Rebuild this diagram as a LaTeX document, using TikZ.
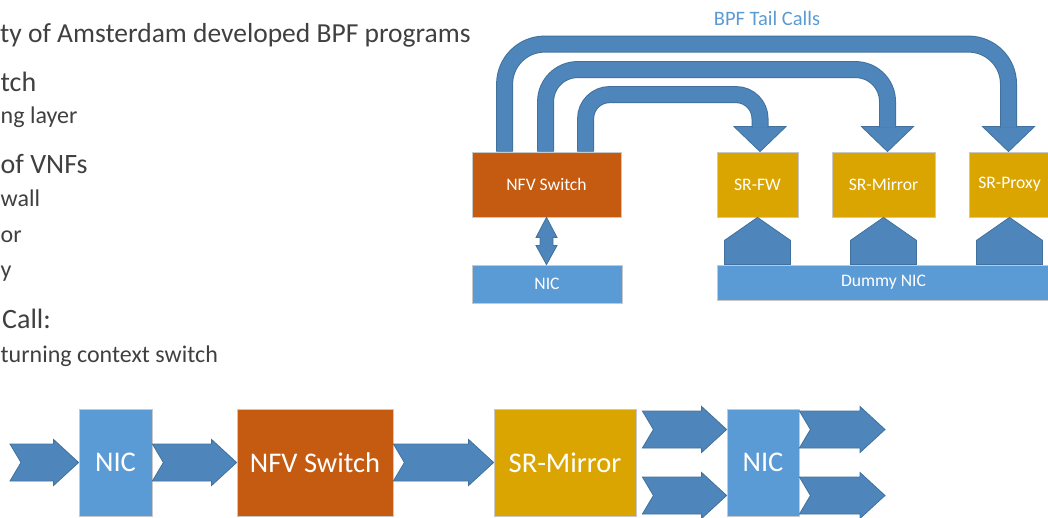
\documentclass[tikz,border=0pt]{standalone}
\usepackage{fontspec}
\setmainfont{Carlito}
\usetikzlibrary{calc}
\definecolor{txtgray}{RGB}{64,64,64}
\definecolor{nicblue}{RGB}{91,155,213}
\definecolor{nfvorange}{RGB}{197,90,17}
\definecolor{srgold}{RGB}{218,165,0}
\definecolor{arrowfill}{RGB}{78,134,187}
\definecolor{arrowline}{RGB}{65,113,156}
\definecolor{boxline}{RGB}{200,200,200}
\newcommand{\notched}[2]{\path[arrowshape] let \p1=(#1), \p2=(#2) in
  (\x1,\y1+18.5pt) -- (\x2-25pt,\y1+18.5pt) -- (\x2-25pt,\y1+23pt) -- (\x2,\y1)
  -- (\x2-25pt,\y1-23pt) -- (\x2-25pt,\y1-18.5pt) -- (\x1,\y1-18.5pt) -- (\x1+11pt,\y1) -- cycle;}
\newcommand{\downhead}[1]{\path[arrowshape] let \p1=(#1) in
  (\x1,\y1) -- (\x1-26pt,\y1+25pt) -- (\x1+26pt,\y1+25pt) -- cycle;}
\newcommand{\uppenta}[2]{\path[arrowshape] let \p1=(#1), \p2=(#2) in
  (\x1,\y1) -- (\x1+33pt,\y1-23pt) -- (\x1+33pt,\y2) -- (\x1-33pt,\y2) -- (\x1-33pt,\y1-23pt) -- cycle;}
\begin{document}
\begin{tikzpicture}[x=1pt,y=-1pt,
  box/.style={rectangle, draw=boxline, line width=0.8pt, inner sep=0pt, text=white},
  small/.style={font=\fontsize{17.6}{20}\selectfont},
  big/.style={font=\fontsize{28.5}{32}\selectfont},
  arrowshape/.style={fill=arrowfill, draw=arrowline, line width=0.8pt, line join=miter},
  band/.style={draw=arrowline, line width=1pt, double=arrowfill, double distance=15pt},
  lvlzero/.style={anchor=base west, inner sep=0pt, text=txtgray, font=\fontsize{27.5}{32}\selectfont},
  lvlone/.style={anchor=base west, inner sep=0pt, text=txtgray, font=\fontsize{28}{32}\selectfont},
  lvltwo/.style={anchor=base west, inner sep=0pt, text=txtgray, font=\fontsize{24}{28}\selectfont},
]
\useasboundingbox (0,0) rectangle (1048,518);
\clip (0,0) rectangle (1048,518);

% left text
\node[lvlzero] (t1) at (0,43) {ty of Amsterdam developed BPF programs};
\node[lvlone] (t2) at (0.5,92) {tch};
\node[lvltwo] (t3) at (0.5,124) {ng layer};
\node[lvlone] (t4) at (0.5,174) {of VNFs};
\node[lvltwo] (t5) at (0.5,207) {wall};
\node[lvltwo] (t6) at (0.5,243) {or};
\node[lvltwo] (t7) at (0.5,277) {y};
\node[lvlone] (t8) at (2,328) {Call:};
\node[lvltwo] (t9) at (0.5,362) {turning context switch};

% top-right diagram
\node[text=nicblue, font=\fontsize{20.5}{24}\selectfont, inner sep=0pt] (tclabel) at (767,18) {BPF Tail Calls};
\node[box, small, fill=nfvorange, minimum width=149pt, minimum height=65pt] (nfv) at (546.5,184.5) {NFV Switch};
\node[box, small, fill=nicblue, minimum width=150pt, minimum height=38pt] (nic) at (547,284) {NIC};
\node[box, small, fill=srgold, minimum width=81pt, minimum height=65pt] (fw) at (757.5,184.5) {SR-FW};
\node[box, small, fill=srgold, minimum width=103pt, minimum height=65pt] (mirror) at (883.5,184.5) {SR-Mirror};
\node[box, small, fill=srgold, minimum width=81pt, minimum height=65pt] (proxy) at (1009.5,184.5) {SR-Proxy};
\node[box, small, fill=nicblue, minimum width=333pt, minimum height=35pt] (dummy) at (883.5,282.5) {Dummy NIC};

% pentagon arrows from Dummy NIC up to the SR boxes
\uppenta{fw.south}{dummy.north -| fw.south}
\uppenta{mirror.south}{dummy.north -| mirror.south}
\uppenta{proxy.south}{dummy.north -| proxy.south}

% double arrow NFV Switch <-> NIC
\path[arrowshape] let \p1=(nfv.south), \p2=(nic.north) in
  (\x1,\y1) -- (\x1+10.5pt,\y1-20pt) -- (\x1+6.5pt,\y1-20pt) -- (\x1+6.5pt,\y2+19pt)
  -- (\x1+10.5pt,\y2+19pt) -- (\x1,\y2) -- (\x1-10.5pt,\y2+19pt) -- (\x1-6.5pt,\y2+19pt)
  -- (\x1-6.5pt,\y1-20pt) -- (\x1-10.5pt,\y1-20pt) -- cycle;

% tail call arrows
\coordinate (hfw) at ($(fw.north)+(2.5,0)$);
\coordinate (hmir) at ($(mirror.north)+(4,0)$);
\coordinate (hpro) at ($(proxy.north)+(-1,0)$);
\downhead{hfw}
\downhead{hmir}
\downhead{hpro}
\draw[band, rounded corners=40pt] let \p1=($(nfv.north west)+(33,0)$), \p2=(hpro) in
  (\x1,\y1) -- (\x1,\y1+107.5pt) -- (\x2,\y1+107.5pt) -- (\x2,\y2+24pt);
\draw[band, rounded corners=32pt] let \p1=($(nfv.north west)+(74,0)$), \p2=(hmir) in
  (\x1,\y1) -- (\x1,\y1+82pt) -- (\x2,\y1+82pt) -- (\x2,\y2+24pt);
\draw[band, rounded corners=24pt] let \p1=($(nfv.north west)+(114,0)$), \p2=(hfw) in
  (\x1,\y1) -- (\x1,\y1+57pt) -- (\x2,\y1+57pt) -- (\x2,\y2+24pt);

% bottom pipeline
\node[box, big, fill=nicblue, minimum width=73pt, minimum height=107pt] (nicA) at (115.5,462.5) {NIC};
\node[box, big, fill=nfvorange, minimum width=156pt, minimum height=107pt] (nfvB) at (315,462.5) {NFV Switch};
\node[box, big, fill=srgold, minimum width=142pt, minimum height=107pt] (mirB) at (565,462.5) {SR-Mirror};
\node[box, big, fill=nicblue, minimum width=72pt, minimum height=107pt] (nicB) at (763,462.5) {NIC};
\coordinate (inA) at (10,462.5);
\coordinate (outA) at (885,429.5);
\coordinate (outB) at (885,495.5);
\notched{inA}{nicA.west}
\notched{nicA.east}{nfvB.west}
\notched{nfvB.east}{mirB.west}
\notched{$(mirB.east)+(6,-33)$}{$(nicB.west)+(0,-33)$}
\notched{$(mirB.east)+(6,33)$}{$(nicB.west)+(0,33)$}
\notched{$(nicB.east)+(0,-33)$}{outA}
\notched{$(nicB.east)+(0,33)$}{outB}
\end{tikzpicture}
\end{document}
